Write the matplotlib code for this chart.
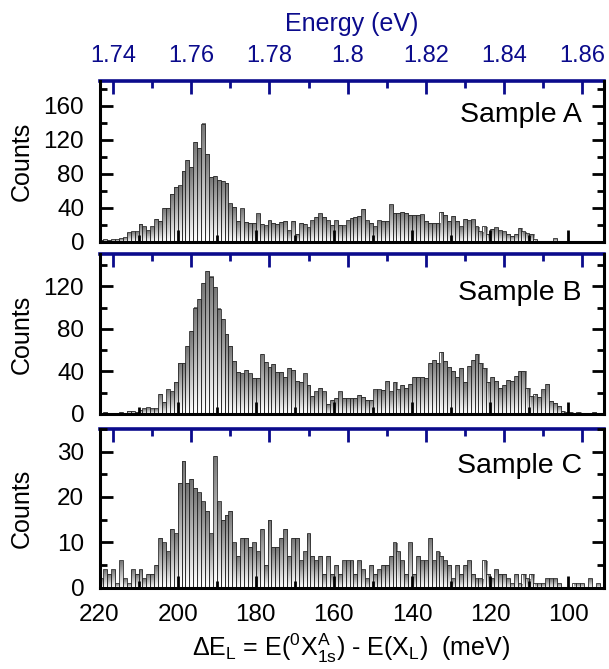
import numpy as np
import matplotlib.pyplot as plt
from matplotlib.ticker import MultipleLocator, FixedLocator, FuncFormatter

plt.rcParams['font.family'] = ['Liberation Sans', 'DejaVu Sans']
plt.rcParams['mathtext.fontset'] = 'custom'
plt.rcParams['mathtext.rm'] = 'Liberation Sans'
plt.rcParams['mathtext.it'] = 'Liberation Sans:italic'

# E(0X^A_1s) in eV, links the meV axis to the photon energy axis
E0 = 1.9565

# 1 meV bins, first bin spans 220..219 meV
bin_start = 220
bin_width = 1

counts_a = [2, 3, 2, 3, 3, 4, 5, 11, 12, 12,
            21, 18, 13, 18, 27, 24, 40, 40, 56, 64,
            66, 83, 96, 88, 117, 110, 139, 103, 76, 77,
            73, 71, 69, 45, 41, 24, 39, 23, 22, 22,
            33, 21, 19, 25, 22, 21, 23, 24, 13, 24,
            9, 22, 21, 17, 25, 29, 33, 29, 25, 20,
            25, 20, 19, 25, 28, 29, 30, 38, 25, 22,
            18, 25, 24, 24, 44, 34, 34, 35, 34, 31,
            31, 31, 32, 24, 22, 22, 22, 35, 31, 24,
            30, 24, 18, 27, 25, 26, 18, 12, 18, 9,
            15, 17, 13, 12, 9, 7, 9, 16, 12, 10,
            9, 3, 1, 0, 1, 1, 4, 0, 1, 0,
            0, 1, 0, 0, 0, 0, 0, 0, 0]

counts_b = [1, 2, 1, 1, 1, 2, 1, 3, 3, 2,
            4, 5, 6, 5, 5, 19, 11, 23, 21, 30,
            48, 48, 64, 78, 100, 108, 123, 134, 129, 119,
            99, 89, 75, 64, 50, 39, 38, 41, 38, 34,
            34, 56, 49, 44, 47, 39, 39, 35, 43, 41,
            31, 30, 38, 27, 17, 21, 24, 21, 9, 13,
            15, 21, 15, 15, 15, 15, 18, 16, 13, 13,
            23, 23, 22, 31, 21, 30, 23, 27, 24, 28,
            35, 35, 35, 34, 48, 51, 48, 58, 50, 44,
            40, 35, 43, 30, 45, 51, 56, 48, 43, 30,
            35, 31, 24, 27, 32, 31, 36, 40, 40, 24,
            17, 19, 16, 23, 28, 12, 10, 7, 3, 2,
            2, 1, 2, 1, 0, 1, 2, 1, 0]

counts_c = [2, 4, 3, 4, 1, 6, 2, 1, 4, 3,
            4, 2, 3, 3, 5, 11, 10, 8, 13, 12,
            23, 28, 23, 24, 22, 21, 19, 17, 12, 29,
            19, 15, 16, 17, 10, 7, 11, 11, 9, 10,
            8, 13, 5, 15, 9, 9, 11, 13, 7, 11,
            11, 6, 8, 12, 7, 6, 7, 3, 7, 3,
            5, 3, 6, 6, 6, 3, 6, 4, 2, 5,
            3, 4, 5, 5, 7, 10, 8, 6, 3, 10,
            3, 7, 6, 6, 11, 6, 8, 7, 6, 5,
            2, 5, 3, 5, 6, 3, 2, 2, 6, 3,
            2, 4, 3, 3, 2, 1, 3, 1, 3, 2,
            3, 1, 1, 1, 2, 2, 2, 1, 0, 0,
            0, 1, 1, 1, 0, 2, 0, 1, 0]

sample_names = ['Sample A', 'Sample B', 'Sample C']
y_max = [188.5, 150, 35]
y_major = [40, 40, 10]
y_minor = [20, 20, 5]
name_y = [0.745, 0.715, 0.721]

# photon energy ticks on the top axis
ev_major = [1.74, 1.76, 1.78, 1.80, 1.82, 1.84, 1.86]
ev_minor = [1.75, 1.77, 1.79, 1.81, 1.83, 1.85]

NAVY = '#0b0b8c'
FS = 18
TICK_FS = 17.5
TOP_TICK_FS = 17


def gradient_bars(ax, counts, ymax, sub=8, ny=400):
    # per-bar fill: grey at the top fading to white at the base
    h = np.repeat(np.asarray(counts, float), sub)
    n = len(counts)
    yy = (np.arange(ny) + 0.5) / ny * ymax
    frac = yy[:, None] / np.where(h > 0, h, 1.0)[None, :]
    across = np.tile((np.arange(sub) + 0.5) / sub, n)
    shade = 0.99 - 0.56 * frac + 0.06 * across[None, :]
    rgba = np.ones((ny, n * sub, 4))
    rgba[..., :3] = np.clip(shade, 0, 1)[..., None]
    rgba[..., 3] = (yy[:, None] < h[None, :]).astype(float)
    ax.imshow(rgba, origin='lower', aspect='auto', interpolation='nearest',
              extent=[bin_start, bin_start - n * bin_width, 0, ymax], zorder=0.8)
    centers = bin_start - bin_width * (np.arange(n) + 0.5)
    ax.bar(centers, counts, width=bin_width, fill=False,
           edgecolor='#2a2a2a', linewidth=0.6, zorder=1)


fig = plt.figure(figsize=(6.09, 6.69), dpi=100)
boxes = [(0.1634, 0.6390, 0.8276, 0.2392),
         (0.1634, 0.3815, 0.8276, 0.2381),
         (0.1634, 0.1218, 0.8276, 0.2369)]

all_counts = [counts_a, counts_b, counts_c]
for i, box in enumerate(boxes):
    ax = fig.add_axes(box)
    gradient_bars(ax, all_counts[i], y_max[i])
    ax.set_xlim(220, 91)
    ax.set_ylim(0, y_max[i])

    ax.xaxis.set_major_locator(MultipleLocator(20))
    ax.xaxis.set_minor_locator(MultipleLocator(10))
    ax.yaxis.set_major_locator(MultipleLocator(y_major[i]))
    ax.yaxis.set_minor_locator(MultipleLocator(y_minor[i]))
    ax.tick_params(which='both', direction='in', width=2, top=False,
                   right=True, labelsize=TICK_FS, color='black')
    ax.tick_params(which='major', length=9)
    ax.tick_params(which='minor', length=5)
    ax.tick_params(axis='y', pad=11)
    ax.tick_params(axis='x', pad=12)
    for s in ['left', 'right', 'bottom']:
        ax.spines[s].set_linewidth(2.2)
    ax.spines['top'].set_visible(False)
    if i < 2:
        ax.tick_params(labelbottom=False)

    sec = ax.secondary_xaxis('top', functions=(lambda d: E0 - d / 1000.0,
                                                lambda e: (E0 - e) * 1000.0))
    sec.xaxis.set_major_locator(FixedLocator(ev_major))
    sec.xaxis.set_minor_locator(FixedLocator(ev_minor))
    sec.xaxis.set_major_formatter(FuncFormatter(lambda v, p: '%g' % round(v, 3)))
    sec.tick_params(which='both', direction='in', width=2, color=NAVY,
                    labelcolor=NAVY, labelsize=TOP_TICK_FS, pad=10.5)
    sec.tick_params(which='major', length=9)
    sec.tick_params(which='minor', length=5)
    sec.spines['top'].set_color(NAVY)
    sec.spines['top'].set_linewidth(2.6)
    if i == 0:
        sec.set_xlabel('Energy (eV)', color=NAVY, fontsize=FS, labelpad=10)
    else:
        sec.tick_params(labeltop=False)

    ax.set_ylabel('Counts', fontsize=FS)
    ax.yaxis.set_label_coords(-0.13, 0.5)
    ax.text(0.957, name_y[i], sample_names[i], transform=ax.transAxes,
            ha='right', va='baseline', fontsize=20.5)

    if i == 2:
        ax.set_xlabel(r'ΔE$_{\rm L}$ = E($^{0}$X$^{\rm A}_{\rm 1s}$) - E(X$_{\rm L}$)  (meV)',
                      fontsize=FS, labelpad=4)

fig.savefig('out.png', dpi=100)
